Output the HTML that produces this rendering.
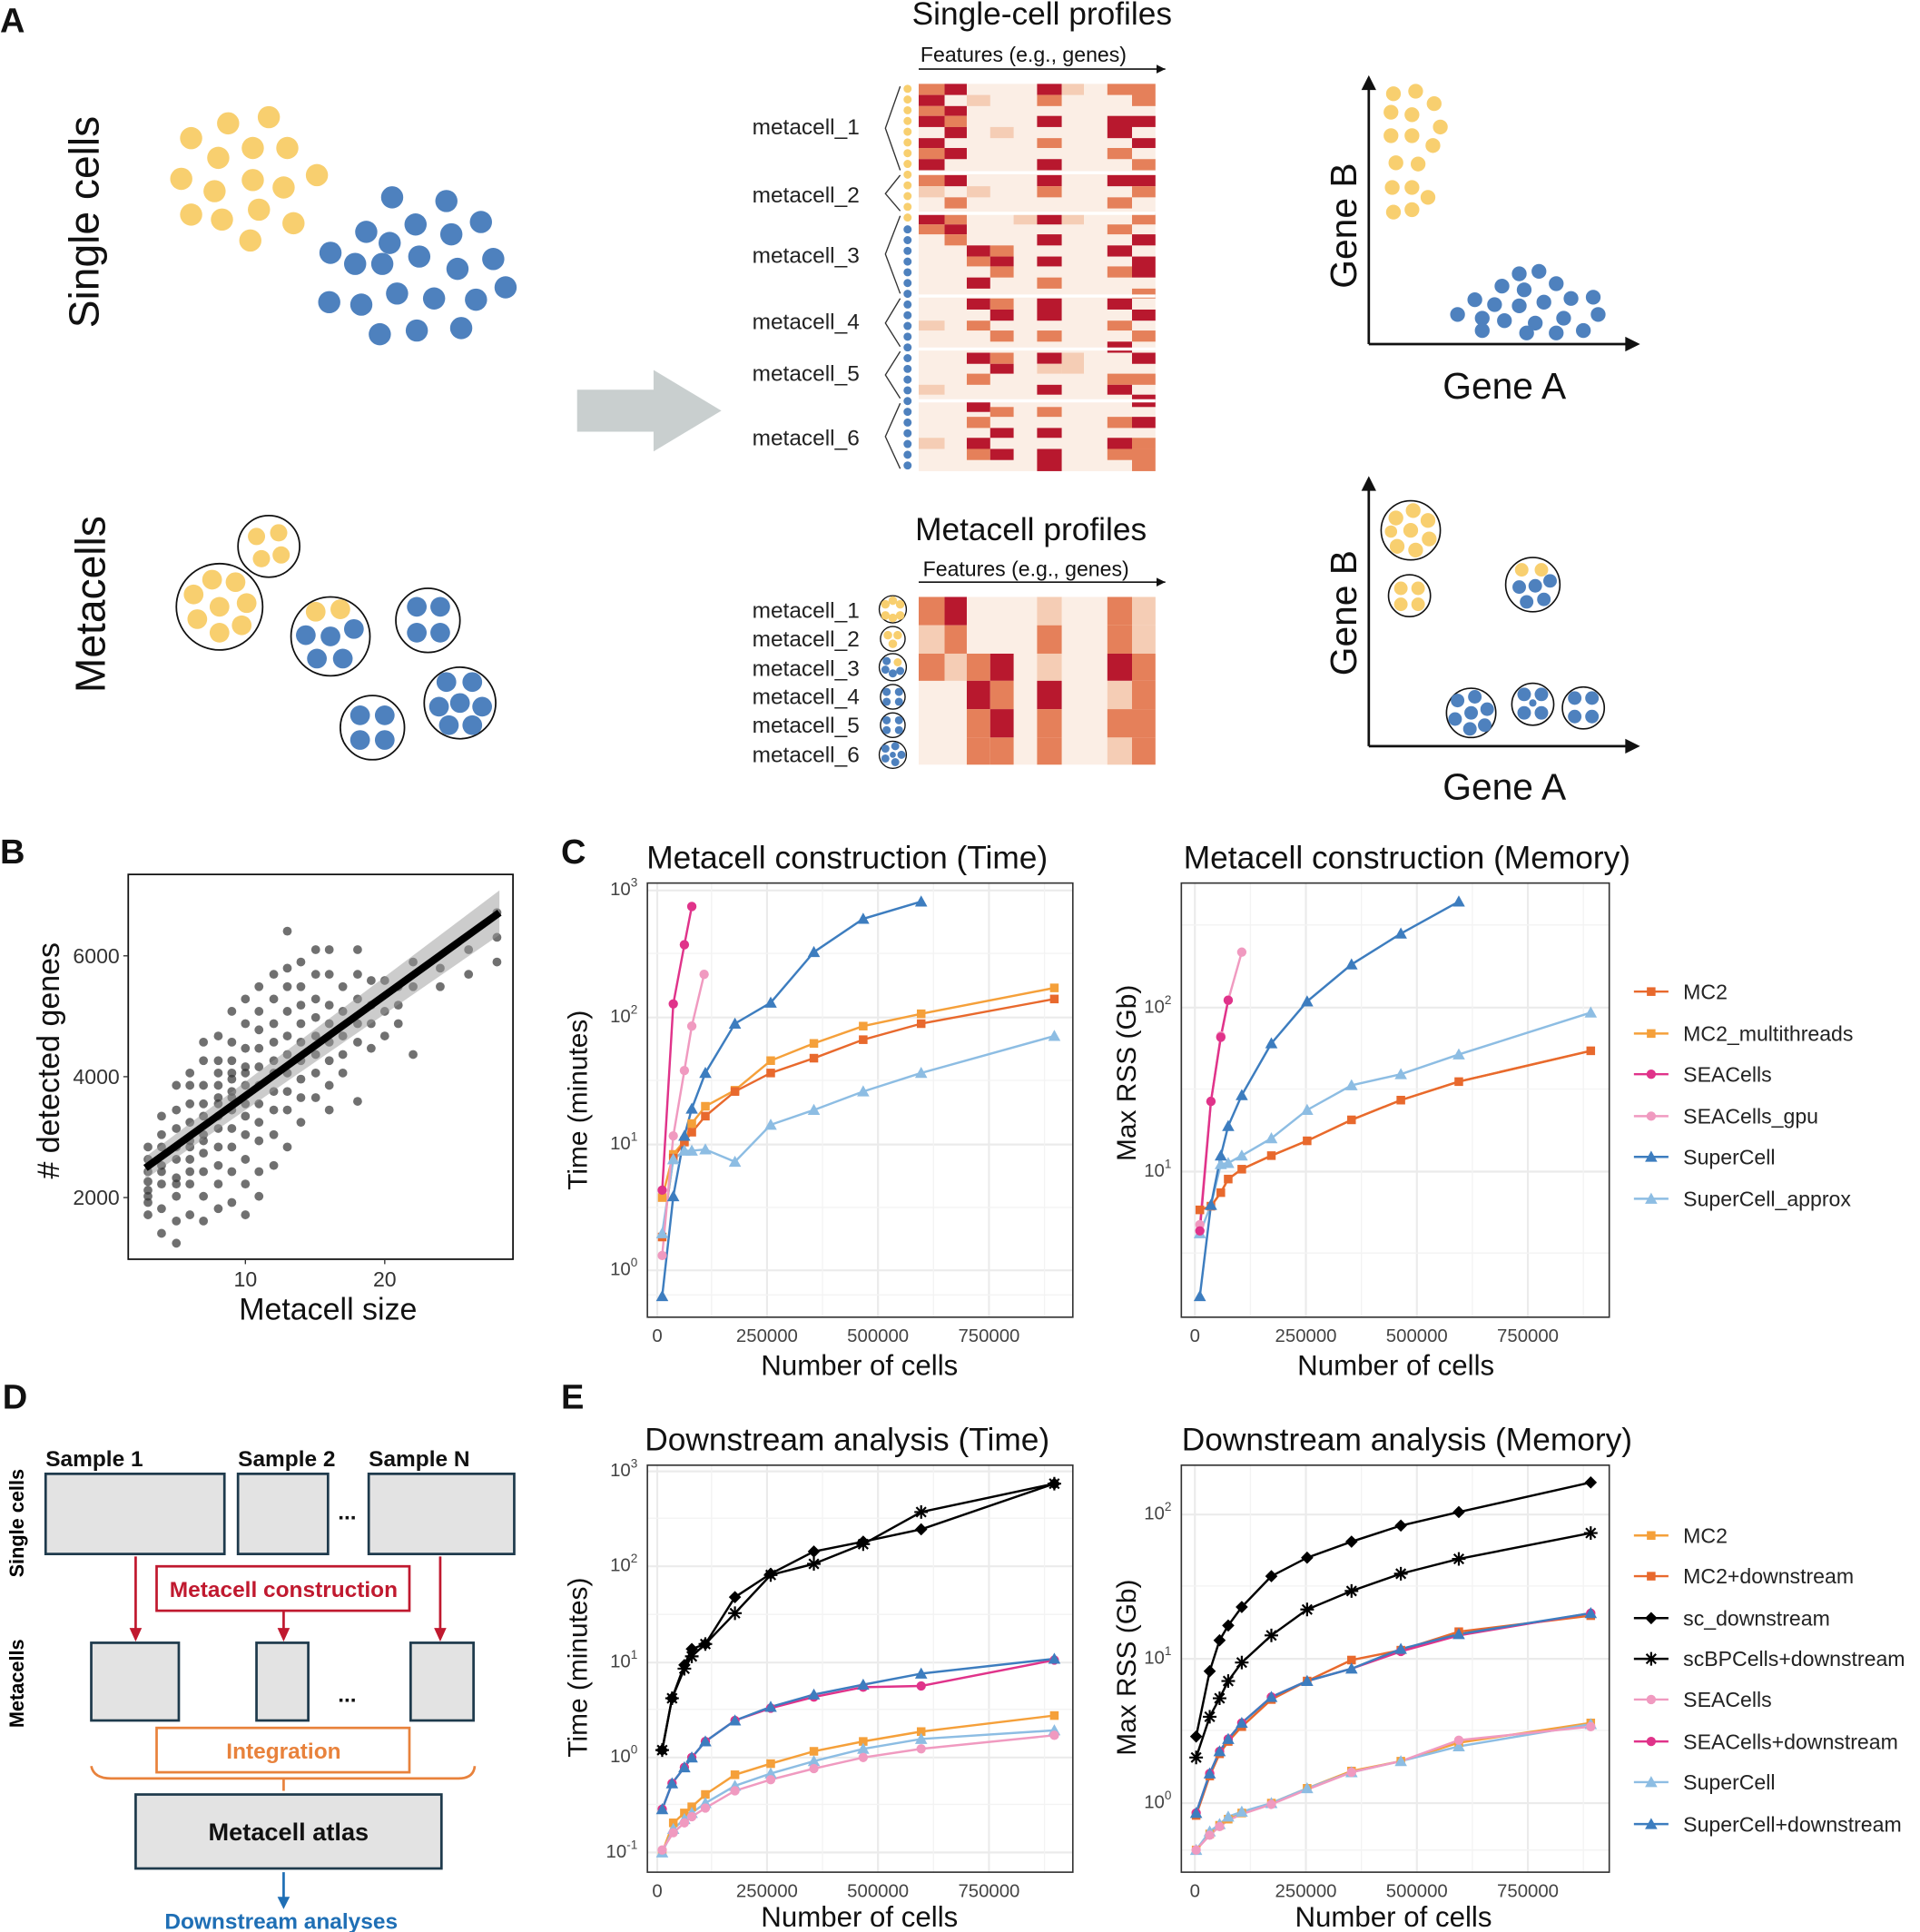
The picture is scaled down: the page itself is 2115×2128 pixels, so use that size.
<!DOCTYPE html>
<html><head><meta charset="utf-8"><style>
html,body{margin:0;padding:0;background:#fff}
svg{display:block}
text{font-family:"Liberation Sans",sans-serif}
</style></head><body>
<svg xmlns="http://www.w3.org/2000/svg" xmlns:xlink="http://www.w3.org/1999/xlink" width="2115" height="2128" viewBox="0 0 1557 1566.5" preserveAspectRatio="none">
<defs>
<path id="q" d="M-3.5,-3.5h7v7h-7z"/>
<circle id="o" r="3.8"/>
<path id="t" d="M0,-5L5,4H-5z"/>
<path id="d" d="M0,-5L5,0L0,5L-5,0z"/>
<path id="x" d="M-5.5,0H5.5M0,-5.5V5.5M-3.9,-3.9L3.9,3.9M-3.9,3.9L3.9,-3.9" stroke="#000" stroke-width="1.6" fill="none"/>
<marker id="ah" markerWidth="8" markerHeight="8" refX="6" refY="3" orient="auto"><path d="M0,0 L6,3 L0,6z" fill="#111"/></marker>
</defs>
<rect width="1557" height="1567" fill="#fff"/>

<g fill="#111">
<text x="0" y="26" font-size="28" font-weight="bold">A</text>
<text x="0" y="700" font-size="28" font-weight="bold">B</text>
<text x="455" y="700" font-size="28" font-weight="bold">C</text>
<text x="2" y="1142" font-size="28" font-weight="bold">D</text>
<text x="455" y="1142" font-size="28" font-weight="bold">E</text>
<text transform="translate(80,180) rotate(-90)" font-size="34" text-anchor="middle">Single cells</text>
<text transform="translate(85,490) rotate(-90)" font-size="34" text-anchor="middle">Metacells</text>
<text x="845" y="20" font-size="26" text-anchor="middle">Single-cell profiles</text>
<text x="830" y="50" font-size="17" text-anchor="middle">Features (e.g., genes)</text>
<text x="836" y="438" font-size="26" text-anchor="middle">Metacell profiles</text>
<text x="832" y="467" font-size="17" text-anchor="middle">Features (e.g., genes)</text>
<text transform="translate(1100,183) rotate(-90)" font-size="30" text-anchor="middle">Gene B</text>
<text x="1220" y="323" font-size="30" text-anchor="middle">Gene A</text>
<text transform="translate(1100,497) rotate(-90)" font-size="30" text-anchor="middle">Gene B</text>
<text x="1220" y="648" font-size="30" text-anchor="middle">Gene A</text>
<text transform="translate(48,860) rotate(-90)" font-size="25" text-anchor="middle"># detected genes</text>
<text x="266" y="1070" font-size="25" text-anchor="middle">Metacell size</text>
<text x="687" y="704" font-size="26" text-anchor="middle">Metacell construction (Time)</text>
<text x="1141" y="704" font-size="26" text-anchor="middle">Metacell construction (Memory)</text>
<text x="687" y="1176" font-size="26" text-anchor="middle">Downstream analysis (Time)</text>
<text x="1141" y="1176" font-size="26" text-anchor="middle">Downstream analysis (Memory)</text>
<text transform="translate(476,892) rotate(-90)" font-size="22" text-anchor="middle">Time (minutes)</text>
<text transform="translate(921,870) rotate(-90)" font-size="22" text-anchor="middle">Max RSS (Gb)</text>
<text transform="translate(476,1352) rotate(-90)" font-size="22" text-anchor="middle">Time (minutes)</text>
<text transform="translate(921,1352) rotate(-90)" font-size="22" text-anchor="middle">Max RSS (Gb)</text>
<text x="697" y="1115" font-size="23" text-anchor="middle">Number of cells</text>
<text x="1132" y="1115" font-size="23" text-anchor="middle">Number of cells</text>
<text x="697" y="1562" font-size="23" text-anchor="middle">Number of cells</text>
<text x="1130" y="1562" font-size="23" text-anchor="middle">Number of cells</text>
</g>

<g fill="#F8CF6F">
<circle cx="155" cy="112" r="9"/><circle cx="185" cy="100" r="9"/><circle cx="218" cy="95" r="9"/><circle cx="147" cy="145" r="9"/><circle cx="177" cy="128" r="9"/><circle cx="205" cy="120" r="9"/><circle cx="233" cy="120" r="9"/><circle cx="257" cy="142" r="9"/><circle cx="174" cy="155" r="9"/><circle cx="205" cy="146" r="9"/><circle cx="230" cy="152" r="9"/><circle cx="155" cy="174" r="9"/><circle cx="180" cy="178" r="9"/><circle cx="210" cy="170" r="9"/><circle cx="238" cy="181" r="9"/><circle cx="203" cy="195" r="9"/>
</g>
<g fill="#4E81BE">
<circle cx="318" cy="160" r="9"/><circle cx="362" cy="163" r="9"/><circle cx="297" cy="188" r="9"/><circle cx="316" cy="197" r="9"/><circle cx="337" cy="182" r="9"/><circle cx="366" cy="190" r="9"/><circle cx="390" cy="180" r="9"/><circle cx="268" cy="205" r="9"/><circle cx="288" cy="214" r="9"/><circle cx="310" cy="214" r="9"/><circle cx="340" cy="208" r="9"/><circle cx="371" cy="218" r="9"/><circle cx="400" cy="210" r="9"/><circle cx="267" cy="245" r="9"/><circle cx="293" cy="247" r="9"/><circle cx="322" cy="238" r="9"/><circle cx="352" cy="242" r="9"/><circle cx="386" cy="243" r="9"/><circle cx="410" cy="233" r="9"/><circle cx="308" cy="271" r="9"/><circle cx="338" cy="268" r="9"/><circle cx="374" cy="266" r="9"/>
</g>

<g stroke="#111" stroke-width="1.3" fill="#fff">
<circle cx="218" cy="443" r="25"/><circle cx="178" cy="492" r="35"/><circle cx="268" cy="516" r="32"/><circle cx="347" cy="503" r="26"/><circle cx="373" cy="570" r="29"/><circle cx="302" cy="590" r="26"/>
</g>
<g fill="#F8CF6F">
<circle cx="208" cy="435" r="7"/><circle cx="226" cy="432" r="7"/><circle cx="212" cy="453" r="7"/><circle cx="228" cy="450" r="7"/>
<circle cx="178" cy="492" r="8"/><circle cx="157" cy="482" r="8"/><circle cx="172" cy="470" r="8"/><circle cx="191" cy="472" r="8"/><circle cx="200" cy="489" r="8"/><circle cx="196" cy="507" r="8"/><circle cx="178" cy="513" r="8"/><circle cx="160" cy="502" r="8"/>
<circle cx="256" cy="496" r="8"/><circle cx="276" cy="494" r="8"/>
</g>
<g fill="#4E81BE">
<circle cx="248" cy="515" r="8"/><circle cx="268" cy="516" r="8"/><circle cx="287" cy="510" r="8"/><circle cx="257" cy="534" r="8"/><circle cx="278" cy="534" r="8"/>
<circle cx="338" cy="492" r="8"/><circle cx="357" cy="492" r="8"/><circle cx="338" cy="513" r="8"/><circle cx="357" cy="513" r="8"/>
<circle cx="373" cy="570" r="8"/><circle cx="362" cy="553" r="8"/><circle cx="383" cy="553" r="8"/><circle cx="356" cy="573" r="8"/><circle cx="391" cy="573" r="8"/><circle cx="364" cy="588" r="8"/><circle cx="383" cy="588" r="8"/>
<circle cx="292" cy="580" r="8"/><circle cx="312" cy="580" r="8"/><circle cx="292" cy="600" r="8"/><circle cx="312" cy="600" r="8"/>
</g>

<polygon points="468,316 530,316 530,300 585,333 530,366 530,350 468,350" fill="#C9CFCF"/>

<rect x="745" y="68" width="192" height="314" fill="#FBEEE5"/>
<g>
<rect x="745" y="68" width="21" height="9" fill="#E5805A"/><rect x="745" y="77" width="21" height="9" fill="#B8182E"/><rect x="745" y="86" width="21" height="8" fill="#E5805A"/><rect x="745" y="94" width="21" height="9" fill="#B8182E"/><rect x="745" y="112" width="21" height="8" fill="#B8182E"/><rect x="745" y="120" width="21" height="9" fill="#E5805A"/><rect x="745" y="129" width="21" height="9" fill="#B8182E"/><rect x="745" y="142" width="21" height="9" fill="#E5805A"/><rect x="745" y="151" width="21" height="9" fill="#F5CDB5"/><rect x="745" y="173" width="21" height="9" fill="#B8182E"/><rect x="745" y="182" width="21" height="8" fill="#E5805A"/><rect x="745" y="260" width="21" height="8" fill="#F5CDB5"/><rect x="745" y="312" width="21" height="8" fill="#F5CDB5"/><rect x="745" y="355" width="21" height="9" fill="#F5CDB5"/>
<rect x="766" y="68" width="18" height="9" fill="#B8182E"/><rect x="766" y="86" width="18" height="8" fill="#B8182E"/><rect x="766" y="94" width="18" height="9" fill="#E5805A"/><rect x="766" y="103" width="18" height="9" fill="#B8182E"/><rect x="766" y="120" width="18" height="9" fill="#B8182E"/><rect x="766" y="142" width="18" height="9" fill="#B8182E"/><rect x="766" y="160" width="18" height="9" fill="#E5805A"/><rect x="766" y="173" width="18" height="9" fill="#E5805A"/><rect x="766" y="182" width="18" height="8" fill="#B8182E"/><rect x="766" y="190" width="18" height="9" fill="#E5805A"/>
<rect x="784" y="77" width="19" height="9" fill="#F5CDB5"/><rect x="784" y="151" width="19" height="9" fill="#F5CDB5"/><rect x="784" y="199" width="19" height="9" fill="#B8182E"/><rect x="784" y="208" width="19" height="8" fill="#E5805A"/><rect x="784" y="225" width="19" height="9" fill="#B8182E"/><rect x="784" y="242" width="19" height="9" fill="#B8182E"/><rect x="784" y="260" width="19" height="8" fill="#E5805A"/><rect x="784" y="286" width="19" height="9" fill="#B8182E"/><rect x="784" y="303" width="19" height="9" fill="#E5805A"/><rect x="784" y="325" width="19" height="9" fill="#B8182E"/><rect x="784" y="338" width="19" height="9" fill="#E5805A"/><rect x="784" y="355" width="19" height="9" fill="#B8182E"/><rect x="784" y="364" width="19" height="9" fill="#E5805A"/>
<rect x="803" y="103" width="19" height="9" fill="#F5CDB5"/><rect x="803" y="199" width="19" height="9" fill="#E5805A"/><rect x="803" y="208" width="19" height="8" fill="#B8182E"/><rect x="803" y="216" width="19" height="9" fill="#E5805A"/><rect x="803" y="242" width="19" height="9" fill="#E5805A"/><rect x="803" y="251" width="19" height="9" fill="#B8182E"/><rect x="803" y="268" width="19" height="9" fill="#E5805A"/><rect x="803" y="286" width="19" height="9" fill="#E5805A"/><rect x="803" y="295" width="19" height="8" fill="#B8182E"/><rect x="803" y="330" width="19" height="8" fill="#E5805A"/><rect x="803" y="347" width="19" height="8" fill="#B8182E"/><rect x="803" y="364" width="19" height="9" fill="#B8182E"/>
<rect x="822" y="173" width="19" height="9" fill="#F5CDB5"/>
<rect x="841" y="68" width="20" height="9" fill="#B8182E"/><rect x="841" y="77" width="20" height="9" fill="#E5805A"/><rect x="841" y="94" width="20" height="9" fill="#B8182E"/><rect x="841" y="112" width="20" height="8" fill="#E5805A"/><rect x="841" y="129" width="20" height="9" fill="#B8182E"/><rect x="841" y="142" width="20" height="9" fill="#B8182E"/><rect x="841" y="151" width="20" height="9" fill="#E5805A"/><rect x="841" y="173" width="20" height="9" fill="#B8182E"/><rect x="841" y="190" width="20" height="9" fill="#B8182E"/><rect x="841" y="208" width="20" height="8" fill="#B8182E"/><rect x="841" y="225" width="20" height="9" fill="#E5805A"/><rect x="841" y="242" width="20" height="18" fill="#B8182E"/><rect x="841" y="268" width="20" height="9" fill="#E5805A"/><rect x="841" y="286" width="20" height="9" fill="#B8182E"/><rect x="841" y="295" width="20" height="8" fill="#F5CDB5"/><rect x="841" y="312" width="20" height="8" fill="#B8182E"/><rect x="841" y="330" width="20" height="8" fill="#E5805A"/><rect x="841" y="347" width="20" height="8" fill="#B8182E"/><rect x="841" y="364" width="20" height="18" fill="#B8182E"/>
<rect x="861" y="68" width="18" height="9" fill="#F5CDB5"/><rect x="861" y="173" width="18" height="9" fill="#F5CDB5"/><rect x="861" y="286" width="18" height="17" fill="#F5CDB5"/>
<rect x="898" y="68" width="20" height="9" fill="#E5805A"/><rect x="898" y="94" width="20" height="18" fill="#B8182E"/><rect x="898" y="120" width="20" height="9" fill="#E5805A"/><rect x="898" y="142" width="20" height="9" fill="#B8182E"/><rect x="898" y="160" width="20" height="9" fill="#E5805A"/><rect x="898" y="182" width="20" height="8" fill="#E5805A"/><rect x="898" y="199" width="20" height="9" fill="#B8182E"/><rect x="898" y="216" width="20" height="9" fill="#E5805A"/><rect x="898" y="242" width="20" height="9" fill="#B8182E"/><rect x="898" y="260" width="20" height="8" fill="#E5805A"/><rect x="898" y="277" width="20" height="9" fill="#B8182E"/><rect x="898" y="303" width="20" height="9" fill="#E5805A"/><rect x="898" y="312" width="20" height="8" fill="#B8182E"/><rect x="898" y="338" width="20" height="9" fill="#E5805A"/><rect x="898" y="355" width="20" height="9" fill="#B8182E"/><rect x="898" y="364" width="20" height="9" fill="#E5805A"/>
<rect x="918" y="68" width="19" height="18" fill="#E5805A"/><rect x="918" y="94" width="19" height="9" fill="#B8182E"/><rect x="918" y="112" width="19" height="8" fill="#B8182E"/><rect x="918" y="129" width="19" height="9" fill="#E5805A"/><rect x="918" y="142" width="19" height="9" fill="#B8182E"/><rect x="918" y="151" width="19" height="9" fill="#E5805A"/><rect x="918" y="173" width="19" height="9" fill="#E5805A"/><rect x="918" y="190" width="19" height="9" fill="#B8182E"/><rect x="918" y="208" width="19" height="17" fill="#B8182E"/><rect x="918" y="234" width="19" height="8" fill="#E5805A"/><rect x="918" y="251" width="19" height="9" fill="#B8182E"/><rect x="918" y="268" width="19" height="9" fill="#E5805A"/><rect x="918" y="286" width="19" height="9" fill="#B8182E"/><rect x="918" y="303" width="19" height="9" fill="#E5805A"/><rect x="918" y="320" width="19" height="10" fill="#B8182E"/><rect x="918" y="338" width="19" height="9" fill="#B8182E"/><rect x="918" y="355" width="19" height="9" fill="#E5805A"/><rect x="918" y="364" width="19" height="18" fill="#E5805A"/>
</g>
<g stroke="#fff" stroke-width="2.5"><line x1="745" y1="140" x2="937" y2="140"/><line x1="745" y1="173" x2="937" y2="173"/><line x1="745" y1="240" x2="937" y2="240"/><line x1="745" y1="283" x2="937" y2="283"/><line x1="745" y1="325" x2="937" y2="325"/></g>
<line x1="736" y1="72" x2="736" y2="182" stroke="#F8CF6F" stroke-width="6.6" stroke-linecap="round" stroke-dasharray="0 8.7"/>
<line x1="736" y1="186" x2="736" y2="380" stroke="#4E81BE" stroke-width="6.6" stroke-linecap="round" stroke-dasharray="0 8.7"/>
<g font-size="18" fill="#222">
<text x="610" y="109">metacell_1</text><text x="610" y="164">metacell_2</text><text x="610" y="213">metacell_3</text><text x="610" y="267">metacell_4</text><text x="610" y="309">metacell_5</text><text x="610" y="361">metacell_6</text>
</g>
<g fill="none" stroke="#333" stroke-width="1">
<path d="M730,70 Q718,104 718,104 Q718,104 730,138"/><path d="M730,142 Q718,157 718,157 Q718,157 730,171"/><path d="M730,175 Q718,206 718,206 Q718,206 730,238"/><path d="M730,242 Q718,262 718,262 Q718,262 730,281"/><path d="M730,285 Q718,304 718,304 Q718,304 730,323"/><path d="M730,327 Q718,354 718,354 Q718,354 730,380"/>
</g>
<line x1="745" y1="56" x2="945" y2="56" stroke="#111" stroke-width="1.2" marker-end="url(#ah)"/>
<line x1="745" y1="472" x2="945" y2="472" stroke="#111" stroke-width="1.2" marker-end="url(#ah)"/>

<rect x="745" y="484" width="192" height="136" fill="#FBEEE5"/>
<g>
<rect x="745" y="484" width="21" height="23" fill="#E5805A"/><rect x="766" y="484" width="18" height="23" fill="#B8182E"/><rect x="841" y="484" width="20" height="23" fill="#F5CDB5"/><rect x="898" y="484" width="20" height="23" fill="#E5805A"/><rect x="918" y="484" width="19" height="23" fill="#F5CDB5"/>
<rect x="745" y="507" width="21" height="23" fill="#F5CDB5"/><rect x="766" y="507" width="18" height="23" fill="#E5805A"/><rect x="841" y="507" width="20" height="23" fill="#E5805A"/><rect x="898" y="507" width="20" height="23" fill="#E5805A"/><rect x="918" y="507" width="19" height="23" fill="#F5CDB5"/>
<rect x="745" y="530" width="21" height="22" fill="#E5805A"/><rect x="766" y="530" width="18" height="22" fill="#F5CDB5"/><rect x="784" y="530" width="19" height="22" fill="#E5805A"/><rect x="803" y="530" width="19" height="22" fill="#B8182E"/><rect x="841" y="530" width="20" height="22" fill="#F5CDB5"/><rect x="898" y="530" width="20" height="22" fill="#B8182E"/><rect x="918" y="530" width="19" height="22" fill="#E5805A"/>
<rect x="784" y="552" width="19" height="23" fill="#B8182E"/><rect x="803" y="552" width="19" height="23" fill="#E5805A"/><rect x="841" y="552" width="20" height="23" fill="#B8182E"/><rect x="898" y="552" width="20" height="23" fill="#F5CDB5"/><rect x="918" y="552" width="19" height="23" fill="#E5805A"/>
<rect x="784" y="575" width="19" height="23" fill="#E5805A"/><rect x="803" y="575" width="19" height="23" fill="#B8182E"/><rect x="841" y="575" width="20" height="23" fill="#E5805A"/><rect x="898" y="575" width="20" height="23" fill="#E5805A"/><rect x="918" y="575" width="19" height="23" fill="#E5805A"/>
<rect x="784" y="598" width="19" height="22" fill="#E5805A"/><rect x="803" y="598" width="19" height="22" fill="#E5805A"/><rect x="841" y="598" width="20" height="22" fill="#E5805A"/><rect x="898" y="598" width="20" height="22" fill="#F5CDB5"/><rect x="918" y="598" width="19" height="22" fill="#E5805A"/>
</g>
<g font-size="18" fill="#222">
<text x="610" y="501">metacell_1</text><text x="610" y="524">metacell_2</text><text x="610" y="548">metacell_3</text><text x="610" y="571">metacell_4</text><text x="610" y="594">metacell_5</text><text x="610" y="618">metacell_6</text>
</g>
<g stroke="#111" stroke-width="1" fill="#fff">
<circle cx="724" cy="494" r="11"/><circle cx="724" cy="518" r="10"/><circle cx="724" cy="541" r="11"/><circle cx="724" cy="565" r="10"/><circle cx="724" cy="588" r="10"/><circle cx="724" cy="612" r="11"/>
</g>
<g fill="#F8CF6F"><circle cx="718" cy="490" r="3.5"/><circle cx="730" cy="490" r="3.5"/><circle cx="718" cy="499" r="3.5"/><circle cx="730" cy="499" r="3.5"/><circle cx="724" cy="487" r="3.5"/><circle cx="724" cy="501" r="3.5"/>
<circle cx="720" cy="515" r="3.5"/><circle cx="728" cy="515" r="3.5"/><circle cx="724" cy="522" r="3.5"/><circle cx="728" cy="537" r="3.3"/></g>
<g fill="#4E81BE"><circle cx="718" cy="543" r="3.3"/><circle cx="724" cy="546" r="3.3"/><circle cx="730" cy="544" r="3.3"/><circle cx="719" cy="536" r="3.3"/>
<circle cx="719" cy="561" r="3.3"/><circle cx="729" cy="561" r="3.3"/><circle cx="719" cy="569" r="3.3"/><circle cx="729" cy="569" r="3.3"/>
<circle cx="719" cy="584" r="3.3"/><circle cx="729" cy="584" r="3.3"/><circle cx="719" cy="592" r="3.3"/><circle cx="729" cy="592" r="3.3"/>
<circle cx="718" cy="607" r="3.3"/><circle cx="726" cy="605" r="3.3"/><circle cx="731" cy="612" r="3.3"/><circle cx="718" cy="615" r="3.3"/><circle cx="726" cy="618" r="3.3"/><circle cx="724" cy="612" r="2.5"/></g>

<g stroke="#111" stroke-width="2"><line x1="1110" y1="70" x2="1110" y2="279"/><line x1="1110" y1="279" x2="1320" y2="279"/><line x1="1110" y1="395" x2="1110" y2="605"/><line x1="1110" y1="605" x2="1320" y2="605"/></g>
<g fill="#111"><polygon points="1104,73 1110,61 1116,73"/><polygon points="1318,273 1330,279 1318,285"/><polygon points="1104,398 1110,386 1116,398"/><polygon points="1318,599 1330,605 1318,611"/></g>
<g fill="#F8CF6F"><circle cx="1130" cy="76" r="6"/><circle cx="1148" cy="74" r="6"/><circle cx="1163" cy="84" r="6"/><circle cx="1128" cy="91" r="6"/><circle cx="1145" cy="93" r="6"/><circle cx="1168" cy="103" r="6"/><circle cx="1128" cy="110" r="6"/><circle cx="1145" cy="110" r="6"/><circle cx="1162" cy="118" r="6"/><circle cx="1132" cy="132" r="6"/><circle cx="1150" cy="133" r="6"/><circle cx="1129" cy="152" r="6"/><circle cx="1145" cy="152" r="6"/><circle cx="1158" cy="160" r="6"/><circle cx="1130" cy="172" r="6"/><circle cx="1145" cy="170" r="6"/></g>
<g fill="#4E81BE"><circle cx="1232" cy="222" r="6"/><circle cx="1248" cy="220" r="6"/><circle cx="1218" cy="232" r="6"/><circle cx="1236" cy="235" r="6"/><circle cx="1262" cy="230" r="6"/><circle cx="1196" cy="243" r="6"/><circle cx="1212" cy="247" r="6"/><circle cx="1232" cy="248" r="6"/><circle cx="1252" cy="245" r="6"/><circle cx="1274" cy="242" r="6"/><circle cx="1292" cy="241" r="6"/><circle cx="1182" cy="255" r="6"/><circle cx="1202" cy="258" r="6"/><circle cx="1220" cy="260" r="6"/><circle cx="1245" cy="262" r="6"/><circle cx="1268" cy="258" r="6"/><circle cx="1296" cy="255" r="6"/><circle cx="1202" cy="268" r="6"/><circle cx="1238" cy="270" r="6"/><circle cx="1262" cy="270" r="6"/><circle cx="1284" cy="268" r="6"/></g>
<g stroke="#111" stroke-width="1.2" fill="#fff"><circle cx="1144" cy="430" r="24"/><circle cx="1143" cy="483" r="17"/><circle cx="1243" cy="474" r="22"/><circle cx="1193" cy="578" r="20"/><circle cx="1243" cy="571" r="17"/><circle cx="1284" cy="574" r="17"/></g>
<g fill="#F8CF6F"><circle cx="1144" cy="430" r="6"/><circle cx="1132" cy="420" r="6"/><circle cx="1146" cy="414" r="6"/><circle cx="1158" cy="422" r="6"/><circle cx="1159" cy="437" r="6"/><circle cx="1148" cy="446" r="6"/><circle cx="1133" cy="443" r="6"/><circle cx="1128" cy="431" r="5"/>
<circle cx="1136" cy="477" r="5.5"/><circle cx="1150" cy="477" r="5.5"/><circle cx="1136" cy="490" r="5.5"/><circle cx="1150" cy="490" r="5.5"/>
<circle cx="1234" cy="462" r="5.5"/><circle cx="1250" cy="462" r="5.5"/></g>
<g fill="#4E81BE"><circle cx="1232" cy="476" r="5.5"/><circle cx="1245" cy="475" r="5.5"/><circle cx="1257" cy="471" r="5.5"/><circle cx="1238" cy="488" r="5.5"/><circle cx="1252" cy="486" r="5.5"/>
<circle cx="1193" cy="578" r="5.5"/><circle cx="1182" cy="568" r="5.5"/><circle cx="1196" cy="565" r="5.5"/><circle cx="1206" cy="575" r="5.5"/><circle cx="1180" cy="583" r="5.5"/><circle cx="1192" cy="591" r="5.5"/><circle cx="1204" cy="588" r="5.5"/>
<circle cx="1236" cy="563" r="5.5"/><circle cx="1250" cy="563" r="5.5"/><circle cx="1236" cy="578" r="5.5"/><circle cx="1250" cy="578" r="5.5"/><circle cx="1243" cy="570" r="3"/>
<circle cx="1277" cy="566" r="5.5"/><circle cx="1291" cy="566" r="5.5"/><circle cx="1277" cy="581" r="5.5"/><circle cx="1291" cy="581" r="5.5"/></g>

<rect x="104" y="709" width="312" height="312" fill="#fff" stroke="#111" stroke-width="1.3"/>
<g font-size="17" fill="#333" text-anchor="end"><text x="97" y="781">6000</text><text x="97" y="879">4000</text><text x="97" y="977">2000</text></g>
<g font-size="17" fill="#333" text-anchor="middle"><text x="199" y="1043">10</text><text x="312" y="1043">20</text></g>
<g stroke="#333"><line x1="100" y1="775" x2="104" y2="775"/><line x1="100" y1="873" x2="104" y2="873"/><line x1="100" y1="971" x2="104" y2="971"/><line x1="199" y1="1021" x2="199" y2="1025"/><line x1="312" y1="1021" x2="312" y2="1025"/></g>
<g fill="#333" fill-opacity="0.7">
<circle cx="120" cy="958" r="3.6"/><circle cx="120" cy="965" r="3.6"/><circle cx="120" cy="975" r="3.6"/><circle cx="120" cy="985" r="3.6"/><circle cx="120" cy="940" r="3.6"/><circle cx="120" cy="930" r="3.6"/><circle cx="120" cy="950" r="3.6"/><circle cx="120" cy="970" r="3.6"/>
<circle cx="131" cy="920" r="3.6"/><circle cx="131" cy="945" r="3.6"/><circle cx="131" cy="960" r="3.6"/><circle cx="131" cy="980" r="3.6"/><circle cx="131" cy="1000" r="3.6"/><circle cx="131" cy="930" r="3.6"/><circle cx="131" cy="950" r="3.6"/><circle cx="131" cy="905" r="3.6"/>
<circle cx="143" cy="900" r="3.6"/><circle cx="143" cy="915" r="3.6"/><circle cx="143" cy="940" r="3.6"/><circle cx="143" cy="955" r="3.6"/><circle cx="143" cy="970" r="3.6"/><circle cx="143" cy="990" r="3.6"/><circle cx="143" cy="1008" r="3.6"/><circle cx="143" cy="880" r="3.6"/><circle cx="143" cy="930" r="3.6"/><circle cx="143" cy="960" r="3.6"/>
<circle cx="154" cy="880" r="3.6"/><circle cx="154" cy="895" r="3.6"/><circle cx="154" cy="910" r="3.6"/><circle cx="154" cy="925" r="3.6"/><circle cx="154" cy="940" r="3.6"/><circle cx="154" cy="960" r="3.6"/><circle cx="154" cy="985" r="3.6"/><circle cx="154" cy="870" r="3.6"/><circle cx="154" cy="930" r="3.6"/><circle cx="154" cy="950" r="3.6"/>
<circle cx="165" cy="860" r="3.6"/><circle cx="165" cy="880" r="3.6"/><circle cx="165" cy="895" r="3.6"/><circle cx="165" cy="905" r="3.6"/><circle cx="165" cy="920" r="3.6"/><circle cx="165" cy="935" r="3.6"/><circle cx="165" cy="950" r="3.6"/><circle cx="165" cy="970" r="3.6"/><circle cx="165" cy="990" r="3.6"/><circle cx="165" cy="845" r="3.6"/><circle cx="165" cy="925" r="3.6"/>
<circle cx="177" cy="840" r="3.6"/><circle cx="177" cy="860" r="3.6"/><circle cx="177" cy="880" r="3.6"/><circle cx="177" cy="890" r="3.6"/><circle cx="177" cy="905" r="3.6"/><circle cx="177" cy="915" r="3.6"/><circle cx="177" cy="930" r="3.6"/><circle cx="177" cy="945" r="3.6"/><circle cx="177" cy="960" r="3.6"/><circle cx="177" cy="980" r="3.6"/><circle cx="177" cy="870" r="3.6"/><circle cx="177" cy="895" r="3.6"/>
<circle cx="188" cy="820" r="3.6"/><circle cx="188" cy="845" r="3.6"/><circle cx="188" cy="860" r="3.6"/><circle cx="188" cy="875" r="3.6"/><circle cx="188" cy="885" r="3.6"/><circle cx="188" cy="900" r="3.6"/><circle cx="188" cy="915" r="3.6"/><circle cx="188" cy="930" r="3.6"/><circle cx="188" cy="950" r="3.6"/><circle cx="188" cy="975" r="3.6"/><circle cx="188" cy="890" r="3.6"/><circle cx="188" cy="870" r="3.6"/>
<circle cx="199" cy="810" r="3.6"/><circle cx="199" cy="830" r="3.6"/><circle cx="199" cy="850" r="3.6"/><circle cx="199" cy="865" r="3.6"/><circle cx="199" cy="880" r="3.6"/><circle cx="199" cy="895" r="3.6"/><circle cx="199" cy="905" r="3.6"/><circle cx="199" cy="920" r="3.6"/><circle cx="199" cy="940" r="3.6"/><circle cx="199" cy="960" r="3.6"/><circle cx="199" cy="985" r="3.6"/><circle cx="199" cy="870" r="3.6"/>
<circle cx="210" cy="800" r="3.6"/><circle cx="210" cy="820" r="3.6"/><circle cx="210" cy="835" r="3.6"/><circle cx="210" cy="850" r="3.6"/><circle cx="210" cy="865" r="3.6"/><circle cx="210" cy="880" r="3.6"/><circle cx="210" cy="895" r="3.6"/><circle cx="210" cy="910" r="3.6"/><circle cx="210" cy="925" r="3.6"/><circle cx="210" cy="950" r="3.6"/><circle cx="210" cy="970" r="3.6"/>
<circle cx="222" cy="790" r="3.6"/><circle cx="222" cy="810" r="3.6"/><circle cx="222" cy="830" r="3.6"/><circle cx="222" cy="845" r="3.6"/><circle cx="222" cy="860" r="3.6"/><circle cx="222" cy="870" r="3.6"/><circle cx="222" cy="885" r="3.6"/><circle cx="222" cy="900" r="3.6"/><circle cx="222" cy="920" r="3.6"/><circle cx="222" cy="945" r="3.6"/>
<circle cx="233" cy="755" r="3.6"/><circle cx="233" cy="785" r="3.6"/><circle cx="233" cy="800" r="3.6"/><circle cx="233" cy="820" r="3.6"/><circle cx="233" cy="840" r="3.6"/><circle cx="233" cy="855" r="3.6"/><circle cx="233" cy="870" r="3.6"/><circle cx="233" cy="885" r="3.6"/><circle cx="233" cy="900" r="3.6"/><circle cx="233" cy="930" r="3.6"/>
<circle cx="244" cy="780" r="3.6"/><circle cx="244" cy="800" r="3.6"/><circle cx="244" cy="815" r="3.6"/><circle cx="244" cy="830" r="3.6"/><circle cx="244" cy="845" r="3.6"/><circle cx="244" cy="860" r="3.6"/><circle cx="244" cy="875" r="3.6"/><circle cx="244" cy="890" r="3.6"/><circle cx="244" cy="910" r="3.6"/>
<circle cx="256" cy="770" r="3.6"/><circle cx="256" cy="790" r="3.6"/><circle cx="256" cy="810" r="3.6"/><circle cx="256" cy="825" r="3.6"/><circle cx="256" cy="840" r="3.6"/><circle cx="256" cy="855" r="3.6"/><circle cx="256" cy="870" r="3.6"/><circle cx="256" cy="890" r="3.6"/>
<circle cx="267" cy="770" r="3.6"/><circle cx="267" cy="790" r="3.6"/><circle cx="267" cy="815" r="3.6"/><circle cx="267" cy="830" r="3.6"/><circle cx="267" cy="845" r="3.6"/><circle cx="267" cy="860" r="3.6"/><circle cx="267" cy="880" r="3.6"/><circle cx="267" cy="900" r="3.6"/>
<circle cx="278" cy="800" r="3.6"/><circle cx="278" cy="820" r="3.6"/><circle cx="278" cy="840" r="3.6"/><circle cx="278" cy="855" r="3.6"/><circle cx="278" cy="870" r="3.6"/>
<circle cx="290" cy="770" r="3.6"/><circle cx="290" cy="790" r="3.6"/><circle cx="290" cy="810" r="3.6"/><circle cx="290" cy="830" r="3.6"/><circle cx="290" cy="845" r="3.6"/><circle cx="290" cy="893" r="3.6"/>
<circle cx="301" cy="795" r="3.6"/><circle cx="301" cy="815" r="3.6"/><circle cx="301" cy="830" r="3.6"/><circle cx="301" cy="850" r="3.6"/>
<circle cx="312" cy="795" r="3.6"/><circle cx="312" cy="820" r="3.6"/><circle cx="312" cy="840" r="3.6"/>
<circle cx="323" cy="800" r="3.6"/><circle cx="323" cy="815" r="3.6"/><circle cx="323" cy="830" r="3.6"/>
<circle cx="335" cy="780" r="3.6"/><circle cx="335" cy="800" r="3.6"/><circle cx="335" cy="855" r="3.6"/>
<circle cx="357" cy="785" r="3.6"/><circle cx="357" cy="800" r="3.6"/><circle cx="380" cy="770" r="3.6"/><circle cx="380" cy="790" r="3.6"/>
<circle cx="403" cy="740" r="3.6"/><circle cx="403" cy="760" r="3.6"/><circle cx="403" cy="780" r="3.6"/>
</g>
<polygon points="118,938 405,722 405,758 118,956" fill="#999" fill-opacity="0.5"/>
<line x1="118" y1="947" x2="405" y2="740" stroke="#000" stroke-width="6"/>

<g stroke="#EBEBEB" stroke-width="1.6">
<line x1="533" y1="716" x2="533" y2="1068"/><line x1="622" y1="716" x2="622" y2="1068"/><line x1="712" y1="716" x2="712" y2="1068"/><line x1="802" y1="716" x2="802" y2="1068"/>
<line x1="525" y1="722" x2="870" y2="722"/><line x1="525" y1="825" x2="870" y2="825"/><line x1="525" y1="928" x2="870" y2="928"/><line x1="525" y1="1030" x2="870" y2="1030"/>
<line x1="969" y1="716" x2="969" y2="1068"/><line x1="1059" y1="716" x2="1059" y2="1068"/><line x1="1149" y1="716" x2="1149" y2="1068"/><line x1="1239" y1="716" x2="1239" y2="1068"/>
<line x1="958" y1="817" x2="1305" y2="817"/><line x1="958" y1="950" x2="1305" y2="950"/>
<line x1="533" y1="1188" x2="533" y2="1518"/><line x1="622" y1="1188" x2="622" y2="1518"/><line x1="712" y1="1188" x2="712" y2="1518"/><line x1="802" y1="1188" x2="802" y2="1518"/>
<line x1="525" y1="1193" x2="870" y2="1193"/><line x1="525" y1="1270" x2="870" y2="1270"/><line x1="525" y1="1348" x2="870" y2="1348"/><line x1="525" y1="1425" x2="870" y2="1425"/><line x1="525" y1="1502" x2="870" y2="1502"/>
<line x1="969" y1="1188" x2="969" y2="1518"/><line x1="1059" y1="1188" x2="1059" y2="1518"/><line x1="1149" y1="1188" x2="1149" y2="1518"/><line x1="1239" y1="1188" x2="1239" y2="1518"/>
<line x1="958" y1="1228" x2="1305" y2="1228"/><line x1="958" y1="1345" x2="1305" y2="1345"/><line x1="958" y1="1462" x2="1305" y2="1462"/>
</g>
<g stroke="#F3F3F3" stroke-width="1">
<line x1="577" y1="716" x2="577" y2="1068"/><line x1="667" y1="716" x2="667" y2="1068"/><line x1="757" y1="716" x2="757" y2="1068"/><line x1="847" y1="716" x2="847" y2="1068"/>
<line x1="525" y1="773" x2="870" y2="773"/><line x1="525" y1="876" x2="870" y2="876"/><line x1="525" y1="979" x2="870" y2="979"/><line x1="525" y1="1050" x2="870" y2="1050"/>
<line x1="1014" y1="716" x2="1014" y2="1068"/><line x1="1104" y1="716" x2="1104" y2="1068"/><line x1="1194" y1="716" x2="1194" y2="1068"/><line x1="1284" y1="716" x2="1284" y2="1068"/>
<line x1="958" y1="750" x2="1305" y2="750"/><line x1="958" y1="883" x2="1305" y2="883"/><line x1="958" y1="1016" x2="1305" y2="1016"/>
<line x1="577" y1="1188" x2="577" y2="1518"/><line x1="667" y1="1188" x2="667" y2="1518"/><line x1="757" y1="1188" x2="757" y2="1518"/><line x1="847" y1="1188" x2="847" y2="1518"/>
<line x1="525" y1="1231" x2="870" y2="1231"/><line x1="525" y1="1309" x2="870" y2="1309"/><line x1="525" y1="1386" x2="870" y2="1386"/><line x1="525" y1="1463" x2="870" y2="1463"/>
<line x1="1014" y1="1188" x2="1014" y2="1518"/><line x1="1104" y1="1188" x2="1104" y2="1518"/><line x1="1194" y1="1188" x2="1194" y2="1518"/><line x1="1284" y1="1188" x2="1284" y2="1518"/>
<line x1="958" y1="1286" x2="1305" y2="1286"/><line x1="958" y1="1403" x2="1305" y2="1403"/><line x1="958" y1="1500" x2="1305" y2="1500"/>
</g>
<g fill="none" stroke="#333" stroke-width="1.2">
<rect x="525" y="716" width="345" height="352"/><rect x="958" y="716" width="347" height="352"/><rect x="525" y="1188" width="345" height="330"/><rect x="958" y="1188" width="347" height="330"/>
</g>
<g font-size="15" fill="#444" text-anchor="middle">
<text x="533" y="1088">0</text><text x="622" y="1088">250000</text><text x="712" y="1088">500000</text><text x="802" y="1088">750000</text>
<text x="969" y="1088">0</text><text x="1059" y="1088">250000</text><text x="1149" y="1088">500000</text><text x="1239" y="1088">750000</text>
<text x="533" y="1538">0</text><text x="622" y="1538">250000</text><text x="712" y="1538">500000</text><text x="802" y="1538">750000</text>
<text x="969" y="1538">0</text><text x="1059" y="1538">250000</text><text x="1149" y="1538">500000</text><text x="1239" y="1538">750000</text>
</g>
<g font-size="15" fill="#444" text-anchor="end">
<text x="517" y="726">10<tspan font-size="10" dy="-7">3</tspan></text><text x="517" y="829">10<tspan font-size="10" dy="-7">2</tspan></text><text x="517" y="932">10<tspan font-size="10" dy="-7">1</tspan></text><text x="517" y="1034">10<tspan font-size="10" dy="-7">0</tspan></text>
<text x="950" y="821">10<tspan font-size="10" dy="-7">2</tspan></text><text x="950" y="954">10<tspan font-size="10" dy="-7">1</tspan></text>
<text x="517" y="1197">10<tspan font-size="10" dy="-7">3</tspan></text><text x="517" y="1274">10<tspan font-size="10" dy="-7">2</tspan></text><text x="517" y="1352">10<tspan font-size="10" dy="-7">1</tspan></text><text x="517" y="1429">10<tspan font-size="10" dy="-7">0</tspan></text><text x="517" y="1506">10<tspan font-size="10" dy="-7">-1</tspan></text>
<text x="950" y="1232">10<tspan font-size="10" dy="-7">2</tspan></text><text x="950" y="1349">10<tspan font-size="10" dy="-7">1</tspan></text><text x="950" y="1466">10<tspan font-size="10" dy="-7">0</tspan></text>
</g>

<g fill="none" stroke-width="1.8">
<polyline stroke="#F5A03A" points="537,971 546,936 555,925 561,911 572,897 596,884 625,860 660,846 700,832 747,822 855,801"/>
<polyline stroke="#E8692D" points="537,1003 546,939 555,926 561,918 572,905 596,885 625,870 660,858 700,843 747,830 855,810"/>
<polyline stroke="#8DBDE3" points="537,1000 546,940 555,933 561,933 572,932 596,942 625,912 660,900 700,885 747,870 855,840"/>
<polyline stroke="#3D7DBF" points="537,1051 546,970 555,921 561,899 572,870 596,830 625,813 660,772 700,745 747,731"/>
<polyline stroke="#F09AC0" points="537,1018 546,921 555,868 561,832 571,790"/>
<polyline stroke="#E0338A" points="537,965 546,814 555,766 561,735"/>
</g>
<g fill="#F5A03A"><use href="#q" x="537" y="971"/><use href="#q" x="546" y="936"/><use href="#q" x="555" y="925"/><use href="#q" x="561" y="911"/><use href="#q" x="572" y="897"/><use href="#q" x="596" y="884"/><use href="#q" x="625" y="860"/><use href="#q" x="660" y="846"/><use href="#q" x="700" y="832"/><use href="#q" x="747" y="822"/><use href="#q" x="855" y="801"/></g>
<g fill="#E8692D"><use href="#q" x="537" y="1003"/><use href="#q" x="546" y="939"/><use href="#q" x="555" y="926"/><use href="#q" x="561" y="918"/><use href="#q" x="572" y="905"/><use href="#q" x="596" y="885"/><use href="#q" x="625" y="870"/><use href="#q" x="660" y="858"/><use href="#q" x="700" y="843"/><use href="#q" x="747" y="830"/><use href="#q" x="855" y="810"/></g>
<g fill="#8DBDE3"><use href="#t" x="537" y="1000"/><use href="#t" x="546" y="940"/><use href="#t" x="555" y="933"/><use href="#t" x="561" y="933"/><use href="#t" x="572" y="932"/><use href="#t" x="596" y="942"/><use href="#t" x="625" y="912"/><use href="#t" x="660" y="900"/><use href="#t" x="700" y="885"/><use href="#t" x="747" y="870"/><use href="#t" x="855" y="840"/></g>
<g fill="#3D7DBF"><use href="#t" x="537" y="1051"/><use href="#t" x="546" y="970"/><use href="#t" x="555" y="921"/><use href="#t" x="561" y="899"/><use href="#t" x="572" y="870"/><use href="#t" x="596" y="830"/><use href="#t" x="625" y="813"/><use href="#t" x="660" y="772"/><use href="#t" x="700" y="745"/><use href="#t" x="747" y="731"/></g>
<g fill="#F09AC0"><use href="#o" x="537" y="1018"/><use href="#o" x="546" y="921"/><use href="#o" x="555" y="868"/><use href="#o" x="561" y="832"/><use href="#o" x="571" y="790"/></g>
<g fill="#E0338A"><use href="#o" x="537" y="965"/><use href="#o" x="546" y="814"/><use href="#o" x="555" y="766"/><use href="#o" x="561" y="735"/></g>

<g fill="none" stroke-width="1.8">
<polyline stroke="#F5A03A" points="973,981 982,978 990,967 996,956 1007,948 1031,937 1060,925 1096,908 1136,892 1183,877 1290,852"/>
<polyline stroke="#E8692D" points="973,981 982,978 990,967 996,956 1007,948 1031,937 1060,925 1096,908 1136,892 1183,877 1290,852"/>
<polyline stroke="#8DBDE3" points="973,1000 982,977 990,944 996,943 1007,937 1031,923 1060,900 1096,880 1136,871 1183,855 1290,821"/>
<polyline stroke="#3D7DBF" points="973,1051 982,977 990,937 996,913 1007,888 1031,846 1060,812 1096,782 1136,757 1183,731"/>
<polyline stroke="#F09AC0" points="973,993 982,893 990,840 996,811 1007,772"/>
<polyline stroke="#E0338A" points="973,998 982,893 990,841 996,811"/>
</g>
<g fill="#E8692D"><use href="#q" x="973" y="981"/><use href="#q" x="982" y="978"/><use href="#q" x="990" y="967"/><use href="#q" x="996" y="956"/><use href="#q" x="1007" y="948"/><use href="#q" x="1031" y="937"/><use href="#q" x="1060" y="925"/><use href="#q" x="1096" y="908"/><use href="#q" x="1136" y="892"/><use href="#q" x="1183" y="877"/><use href="#q" x="1290" y="852"/></g>
<g fill="#8DBDE3"><use href="#t" x="973" y="1000"/><use href="#t" x="982" y="977"/><use href="#t" x="990" y="944"/><use href="#t" x="996" y="943"/><use href="#t" x="1007" y="937"/><use href="#t" x="1031" y="923"/><use href="#t" x="1060" y="900"/><use href="#t" x="1096" y="880"/><use href="#t" x="1136" y="871"/><use href="#t" x="1183" y="855"/><use href="#t" x="1290" y="821"/></g>
<g fill="#3D7DBF"><use href="#t" x="973" y="1051"/><use href="#t" x="982" y="977"/><use href="#t" x="990" y="937"/><use href="#t" x="996" y="913"/><use href="#t" x="1007" y="888"/><use href="#t" x="1031" y="846"/><use href="#t" x="1060" y="812"/><use href="#t" x="1096" y="782"/><use href="#t" x="1136" y="757"/><use href="#t" x="1183" y="731"/></g>
<g fill="#F09AC0"><use href="#o" x="973" y="993"/><use href="#o" x="982" y="893"/><use href="#o" x="990" y="840"/><use href="#o" x="996" y="811"/><use href="#o" x="1007" y="772"/></g>
<g fill="#E0338A"><use href="#o" x="973" y="998"/><use href="#o" x="982" y="893"/><use href="#o" x="990" y="841"/><use href="#o" x="996" y="811"/></g>

<g fill="none" stroke-width="1.8">
<polyline stroke="#F5A03A" points="537,1502 546,1478 555,1470 561,1465 572,1455 596,1439 625,1430 660,1420 700,1412 747,1404 855,1391"/>
<polyline stroke="#8DBDE3" points="537,1502 546,1483 555,1475 561,1470 572,1462 596,1448 625,1438 660,1428 700,1418 747,1410 855,1403"/>
<polyline stroke="#F09AC0" points="537,1500 546,1486 555,1478 561,1473 572,1466 596,1452 625,1443 660,1434 700,1425 747,1418 855,1407"/>
<polyline stroke="#E0338A" points="537,1467 545,1446 555,1433 561,1425 572,1412 596,1395 625,1385 660,1376 700,1368 747,1367 855,1346"/>
<polyline stroke="#3D7DBF" points="537,1467 545,1446 555,1433 561,1425 572,1412 596,1395 625,1384 660,1374 700,1366 747,1357 855,1345"/>
<polyline stroke="#000" points="537,1419 545,1377 555,1350 561,1337 572,1333 596,1295 625,1276 660,1258 700,1250 747,1240 855,1203"/>
<polyline stroke="#000" points="537,1419 545,1377 555,1353 561,1343 572,1333 596,1308 625,1277 660,1268 700,1252 747,1226 855,1203"/>
</g>
<g fill="#F5A03A"><use href="#q" x="537" y="1502"/><use href="#q" x="546" y="1478"/><use href="#q" x="555" y="1470"/><use href="#q" x="561" y="1465"/><use href="#q" x="572" y="1455"/><use href="#q" x="596" y="1439"/><use href="#q" x="625" y="1430"/><use href="#q" x="660" y="1420"/><use href="#q" x="700" y="1412"/><use href="#q" x="747" y="1404"/><use href="#q" x="855" y="1391"/></g>
<g fill="#8DBDE3"><use href="#t" x="537" y="1502"/><use href="#t" x="546" y="1483"/><use href="#t" x="555" y="1475"/><use href="#t" x="561" y="1470"/><use href="#t" x="572" y="1462"/><use href="#t" x="596" y="1448"/><use href="#t" x="625" y="1438"/><use href="#t" x="660" y="1428"/><use href="#t" x="700" y="1418"/><use href="#t" x="747" y="1410"/><use href="#t" x="855" y="1403"/></g>
<g fill="#F09AC0"><use href="#o" x="537" y="1500"/><use href="#o" x="546" y="1486"/><use href="#o" x="555" y="1478"/><use href="#o" x="561" y="1473"/><use href="#o" x="572" y="1466"/><use href="#o" x="596" y="1452"/><use href="#o" x="625" y="1443"/><use href="#o" x="660" y="1434"/><use href="#o" x="700" y="1425"/><use href="#o" x="747" y="1418"/><use href="#o" x="855" y="1407"/></g>
<g fill="#E0338A"><use href="#o" x="537" y="1467"/><use href="#o" x="545" y="1446"/><use href="#o" x="555" y="1433"/><use href="#o" x="561" y="1425"/><use href="#o" x="572" y="1412"/><use href="#o" x="596" y="1395"/><use href="#o" x="625" y="1385"/><use href="#o" x="660" y="1376"/><use href="#o" x="700" y="1368"/><use href="#o" x="747" y="1367"/><use href="#o" x="855" y="1346"/></g>
<g fill="#3D7DBF"><use href="#t" x="537" y="1467"/><use href="#t" x="545" y="1446"/><use href="#t" x="555" y="1433"/><use href="#t" x="561" y="1425"/><use href="#t" x="572" y="1412"/><use href="#t" x="596" y="1395"/><use href="#t" x="625" y="1384"/><use href="#t" x="660" y="1374"/><use href="#t" x="700" y="1366"/><use href="#t" x="747" y="1357"/><use href="#t" x="855" y="1345"/></g>
<g fill="#000"><use href="#d" x="537" y="1419"/><use href="#d" x="545" y="1377"/><use href="#d" x="555" y="1350"/><use href="#d" x="561" y="1337"/><use href="#d" x="572" y="1333"/><use href="#d" x="596" y="1295"/><use href="#d" x="625" y="1276"/><use href="#d" x="660" y="1258"/><use href="#d" x="700" y="1250"/><use href="#d" x="747" y="1240"/><use href="#d" x="855" y="1203"/></g>
<g><use href="#x" x="537" y="1419"/><use href="#x" x="545" y="1377"/><use href="#x" x="555" y="1353"/><use href="#x" x="561" y="1343"/><use href="#x" x="572" y="1333"/><use href="#x" x="596" y="1308"/><use href="#x" x="625" y="1277"/><use href="#x" x="660" y="1268"/><use href="#x" x="700" y="1252"/><use href="#x" x="747" y="1226"/><use href="#x" x="855" y="1203"/></g>

<g fill="none" stroke-width="1.8">
<polyline stroke="#F5A03A" points="970,1500 981,1487 989,1480 996,1475 1007,1470 1031,1462 1060,1450 1096,1436 1136,1428 1183,1413 1290,1397"/>
<polyline stroke="#8DBDE3" points="970,1500 981,1485 989,1479 996,1473 1007,1469 1031,1462 1060,1450 1096,1437 1136,1428 1183,1416 1290,1398"/>
<polyline stroke="#F09AC0" points="970,1500 981,1488 989,1481 996,1476 1007,1471 1031,1463 1060,1451 1096,1437 1136,1428 1183,1411 1290,1400"/>
<polyline stroke="#E8692D" points="970,1472 981,1440 989,1422 996,1412 1007,1400 1031,1378 1060,1363 1096,1346 1136,1338 1183,1323 1290,1310"/>
<polyline stroke="#E0338A" points="970,1470 981,1438 989,1420 996,1410 1007,1397 1031,1376 1060,1363 1096,1353 1136,1339 1183,1326 1290,1308"/>
<polyline stroke="#3D7DBF" points="970,1470 981,1438 989,1420 996,1410 1007,1397 1031,1376 1060,1363 1096,1353 1136,1337 1183,1325 1290,1308"/>
<polyline stroke="#000" points="970,1408 981,1355 989,1330 996,1318 1007,1303 1031,1278 1060,1263 1096,1250 1136,1237 1183,1226 1290,1202"/>
<polyline stroke="#000" points="970,1425 981,1392 989,1377 996,1363 1007,1348 1031,1326 1060,1305 1096,1290 1136,1276 1183,1264 1290,1243"/>
</g>
<g fill="#F5A03A"><use href="#q" x="970" y="1500"/><use href="#q" x="981" y="1487"/><use href="#q" x="989" y="1480"/><use href="#q" x="996" y="1475"/><use href="#q" x="1007" y="1470"/><use href="#q" x="1031" y="1462"/><use href="#q" x="1060" y="1450"/><use href="#q" x="1096" y="1436"/><use href="#q" x="1136" y="1428"/><use href="#q" x="1183" y="1413"/><use href="#q" x="1290" y="1397"/></g>
<g fill="#8DBDE3"><use href="#t" x="970" y="1500"/><use href="#t" x="981" y="1485"/><use href="#t" x="989" y="1479"/><use href="#t" x="996" y="1473"/><use href="#t" x="1007" y="1469"/><use href="#t" x="1031" y="1462"/><use href="#t" x="1060" y="1450"/><use href="#t" x="1096" y="1437"/><use href="#t" x="1136" y="1428"/><use href="#t" x="1183" y="1416"/><use href="#t" x="1290" y="1398"/></g>
<g fill="#F09AC0"><use href="#o" x="970" y="1500"/><use href="#o" x="981" y="1488"/><use href="#o" x="989" y="1481"/><use href="#o" x="1031" y="1463"/><use href="#o" x="1096" y="1437"/><use href="#o" x="1183" y="1411"/><use href="#o" x="1290" y="1400"/></g>
<g fill="#E8692D"><use href="#q" x="970" y="1472"/><use href="#q" x="981" y="1440"/><use href="#q" x="989" y="1422"/><use href="#q" x="996" y="1412"/><use href="#q" x="1007" y="1400"/><use href="#q" x="1031" y="1378"/><use href="#q" x="1060" y="1363"/><use href="#q" x="1096" y="1346"/><use href="#q" x="1136" y="1338"/><use href="#q" x="1183" y="1323"/><use href="#q" x="1290" y="1310"/></g>
<g fill="#E0338A"><use href="#o" x="970" y="1470"/><use href="#o" x="981" y="1438"/><use href="#o" x="989" y="1420"/><use href="#o" x="996" y="1410"/><use href="#o" x="1007" y="1397"/><use href="#o" x="1031" y="1376"/><use href="#o" x="1136" y="1339"/><use href="#o" x="1290" y="1308"/></g>
<g fill="#3D7DBF"><use href="#t" x="970" y="1470"/><use href="#t" x="981" y="1438"/><use href="#t" x="989" y="1420"/><use href="#t" x="996" y="1410"/><use href="#t" x="1007" y="1397"/><use href="#t" x="1031" y="1376"/><use href="#t" x="1060" y="1363"/><use href="#t" x="1096" y="1353"/><use href="#t" x="1136" y="1337"/><use href="#t" x="1183" y="1325"/><use href="#t" x="1290" y="1308"/></g>
<g fill="#000"><use href="#d" x="970" y="1408"/><use href="#d" x="981" y="1355"/><use href="#d" x="989" y="1330"/><use href="#d" x="996" y="1318"/><use href="#d" x="1007" y="1303"/><use href="#d" x="1031" y="1278"/><use href="#d" x="1060" y="1263"/><use href="#d" x="1096" y="1250"/><use href="#d" x="1136" y="1237"/><use href="#d" x="1183" y="1226"/><use href="#d" x="1290" y="1202"/></g>
<g><use href="#x" x="970" y="1425"/><use href="#x" x="981" y="1392"/><use href="#x" x="989" y="1377"/><use href="#x" x="996" y="1363"/><use href="#x" x="1007" y="1348"/><use href="#x" x="1031" y="1326"/><use href="#x" x="1060" y="1305"/><use href="#x" x="1096" y="1290"/><use href="#x" x="1136" y="1276"/><use href="#x" x="1183" y="1264"/><use href="#x" x="1290" y="1243"/></g>

<g stroke-width="1.8">
<line x1="1325" y1="804" x2="1353" y2="804" stroke="#E8692D"/><line x1="1325" y1="838" x2="1353" y2="838" stroke="#F5A03A"/><line x1="1325" y1="871" x2="1353" y2="871" stroke="#E0338A"/><line x1="1325" y1="905" x2="1353" y2="905" stroke="#F09AC0"/><line x1="1325" y1="938" x2="1353" y2="938" stroke="#3D7DBF"/><line x1="1325" y1="972" x2="1353" y2="972" stroke="#8DBDE3"/>
<line x1="1325" y1="1245" x2="1353" y2="1245" stroke="#F5A03A"/><line x1="1325" y1="1278" x2="1353" y2="1278" stroke="#E8692D"/><line x1="1325" y1="1312" x2="1353" y2="1312" stroke="#000"/><line x1="1325" y1="1345" x2="1353" y2="1345" stroke="#000"/><line x1="1325" y1="1378" x2="1353" y2="1378" stroke="#F09AC0"/><line x1="1325" y1="1412" x2="1353" y2="1412" stroke="#E0338A"/><line x1="1325" y1="1445" x2="1353" y2="1445" stroke="#8DBDE3"/><line x1="1325" y1="1479" x2="1353" y2="1479" stroke="#3D7DBF"/>
</g>
<use href="#q" x="1339" y="804" fill="#E8692D"/><use href="#q" x="1339" y="838" fill="#F5A03A"/><use href="#o" x="1339" y="871" fill="#E0338A"/><use href="#o" x="1339" y="905" fill="#F09AC0"/><use href="#t" x="1339" y="938" fill="#3D7DBF"/><use href="#t" x="1339" y="972" fill="#8DBDE3"/>
<use href="#q" x="1339" y="1245" fill="#F5A03A"/><use href="#q" x="1339" y="1278" fill="#E8692D"/><use href="#d" x="1339" y="1312" fill="#000"/><use href="#x" x="1339" y="1345"/><use href="#o" x="1339" y="1378" fill="#F09AC0"/><use href="#o" x="1339" y="1412" fill="#E0338A"/><use href="#t" x="1339" y="1445" fill="#8DBDE3"/><use href="#t" x="1339" y="1479" fill="#3D7DBF"/>
<g font-size="17" fill="#222">
<text x="1365" y="810">MC2</text><text x="1365" y="844">MC2_multithreads</text><text x="1365" y="877">SEACells</text><text x="1365" y="911">SEACells_gpu</text><text x="1365" y="944">SuperCell</text><text x="1365" y="978">SuperCell_approx</text>
<text x="1365" y="1251">MC2</text><text x="1365" y="1284">MC2+downstream</text><text x="1365" y="1318">sc_downstream</text><text x="1365" y="1351">scBPCells+downstream</text><text x="1365" y="1384">SEACells</text><text x="1365" y="1418">SEACells+downstream</text><text x="1365" y="1451">SuperCell</text><text x="1365" y="1485">SuperCell+downstream</text>
</g>

<g fill="#E3E3E3" stroke="#1E3A4C" stroke-width="2">
<rect x="37" y="1195" width="145" height="65"/><rect x="193" y="1195" width="73" height="65"/><rect x="299" y="1195" width="118" height="65"/>
<rect x="74" y="1332" width="71" height="63"/><rect x="208" y="1332" width="42" height="63"/><rect x="333" y="1332" width="51" height="63"/>
<rect x="110" y="1455" width="248" height="60"/>
</g>
<g font-size="18" font-weight="bold" fill="#111">
<text x="37" y="1189">Sample 1</text><text x="193" y="1189">Sample 2</text><text x="299" y="1189">Sample N</text>
<text x="274" y="1232">...</text><text x="274" y="1380">...</text>
</g>
<text transform="translate(19,1235) rotate(-90)" font-size="16" font-weight="bold" text-anchor="middle">Single cells</text>
<text transform="translate(19,1365) rotate(-90)" font-size="16" font-weight="bold" text-anchor="middle">Metacells</text>
<g stroke="#C0192F" stroke-width="2"><line x1="110" y1="1262" x2="110" y2="1322"/><line x1="230" y1="1306" x2="230" y2="1322"/><line x1="357" y1="1262" x2="357" y2="1322"/></g>
<g fill="#C0192F"><polygon points="105,1320 115,1320 110,1331"/><polygon points="225,1320 235,1320 230,1331"/><polygon points="352,1320 362,1320 357,1331"/></g>
<rect x="127" y="1270" width="205" height="36" fill="#fff" stroke="#C0192F" stroke-width="2"/>
<text x="230" y="1295" font-size="18" font-weight="bold" fill="#C0192F" text-anchor="middle">Metacell construction</text>
<rect x="127" y="1401" width="205" height="36" fill="#fff" stroke="#E8823C" stroke-width="2"/>
<text x="230" y="1426" font-size="18" font-weight="bold" fill="#E8823C" text-anchor="middle">Integration</text>
<path d="M74,1432 Q76,1442 90,1442 L372,1442 Q384,1442 385,1432 M230,1442 L230,1452" fill="none" stroke="#E8823C" stroke-width="2"/>
<text x="234" y="1492" font-size="20" font-weight="bold" fill="#111" text-anchor="middle">Metacell atlas</text>
<line x1="230" y1="1518" x2="230" y2="1540" stroke="#1F6FB5" stroke-width="2"/>
<polygon points="225,1538 235,1538 230,1548" fill="#1F6FB5"/>
<text x="228" y="1564" font-size="18" font-weight="bold" fill="#1F6FB5" text-anchor="middle">Downstream analyses</text>
</svg>
</body></html>
